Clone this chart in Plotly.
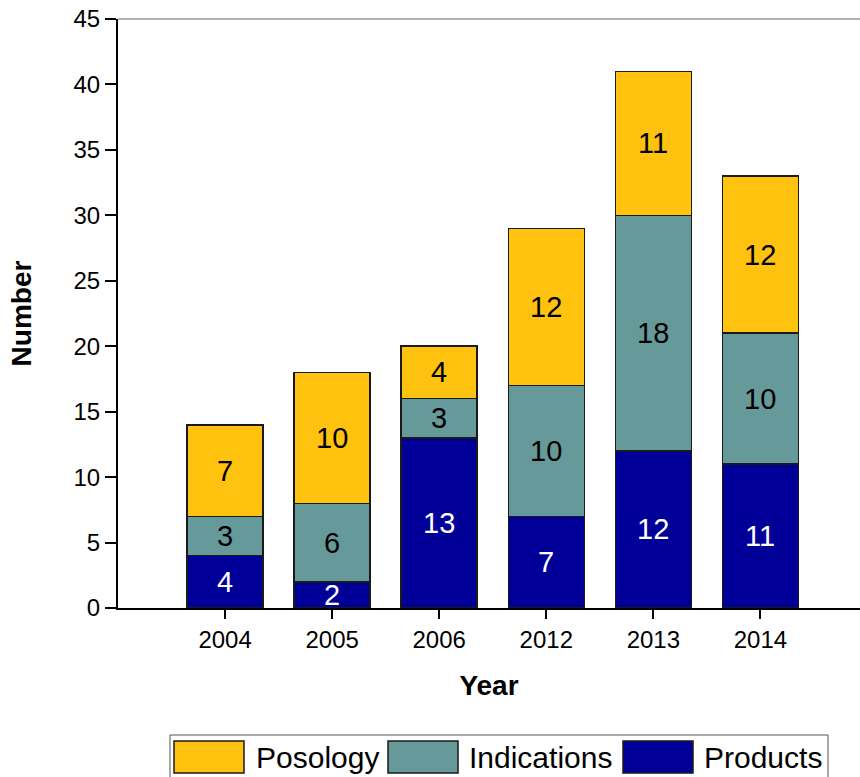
import plotly.graph_objects as go

years = ["2004", "2005", "2006", "2012", "2013", "2014"]
products = [4, 2, 13, 7, 12, 11]
indications = [3, 6, 3, 10, 18, 10]
posology = [7, 10, 4, 12, 11, 12]

series_names = ["Products", "Indications", "Posology"]
series_values = [products, indications, posology]
series_colors = ["#000099", "#669999", "#FFC20E"]
label_colors = ["white", "black", "black"]

FONT = "Arial, Liberation Sans, Helvetica, sans-serif"

fig = go.Figure()
for name, vals, col in zip(series_names, series_values, series_colors):
    fig.add_trace(go.Bar(
        x=years, y=vals, name=name,
        marker=dict(color=col, line=dict(color="#1a1a1a", width=1.5)),
        width=0.71, showlegend=False, hoverinfo="x+y+name",
    ))

# segment labels at the middle of each stacked segment (category index on x)
annotations = []
base = [0] * len(years)
for vals, tcol in zip(series_values, label_colors):
    for i, v in enumerate(vals):
        annotations.append(dict(
            x=i, y=base[i] + v / 2, xref="x", yref="y", text=str(v),
            showarrow=False, font=dict(family=FONT, size=29, color=tcol),
            xanchor="center", yanchor="middle",
        ))
        base[i] += v

# custom legend (pixel layout converted to paper coordinates)
L, R, T, B = 118, 860, 19, 608
def px(x):
    return (x - L) / (R - L)
def py(y):
    return (B - y) / (B - T)

shapes = [
    dict(type="line", xref="paper", yref="paper", x0=0, x1=1, y0=1, y1=1,
         line=dict(color="#b4b4b4", width=2)),
    dict(type="rect", xref="paper", yref="paper", x0=px(170), x1=px(828),
         y0=py(735), y1=py(800), line=dict(color="#555555", width=1),
         fillcolor="rgba(0,0,0,0)"),
]
legend_order = ["Posology", "Indications", "Products"]
swatch_x = [174, 388, 623]
text_x = [254, 467, 702]
for name, sx, tx in zip(legend_order, swatch_x, text_x):
    col = series_colors[series_names.index(name)]
    shapes.append(dict(type="rect", xref="paper", yref="paper",
                       x0=px(sx), x1=px(sx + 70), y0=py(741), y1=py(773),
                       fillcolor=col, line=dict(color="#1a1a1a", width=1.5)))
    annotations.append(dict(x=px(tx), y=py(757), xref="paper", yref="paper",
                            text=name, showarrow=False, xanchor="left",
                            yanchor="middle",
                            font=dict(family=FONT, size=30, color="black")))

fig.update_layout(
    barmode="stack",
    width=860, height=777,
    margin=dict(l=L, r=0, t=T, b=777 - B, pad=0),
    paper_bgcolor="white", plot_bgcolor="white",
    font=dict(family=FONT, color="black"),
    annotations=annotations, shapes=shapes,
    xaxis=dict(
        type="category", range=[-1.0, 5.93],
        showline=True, linecolor="black", linewidth=2,
        ticks="outside", ticklen=9, tickwidth=2, tickcolor="black",
        tickfont=dict(size=24, family=FONT),
        showgrid=False, zeroline=False,
        title=dict(text="<b>Year</b>", font=dict(size=28, family=FONT), standoff=24),
    ),
    yaxis=dict(
        range=[0, 45], dtick=5, tick0=0,
        showline=True, linecolor="black", linewidth=2,
        ticks="outside", ticklen=11, tickwidth=2, tickcolor="black",
        tickfont=dict(size=24, family=FONT),
        showgrid=False, zeroline=False,
        title=dict(text="<b>Number</b>", font=dict(size=28, family=FONT), standoff=34),
    ),
)

fig.write_html("out.html")
